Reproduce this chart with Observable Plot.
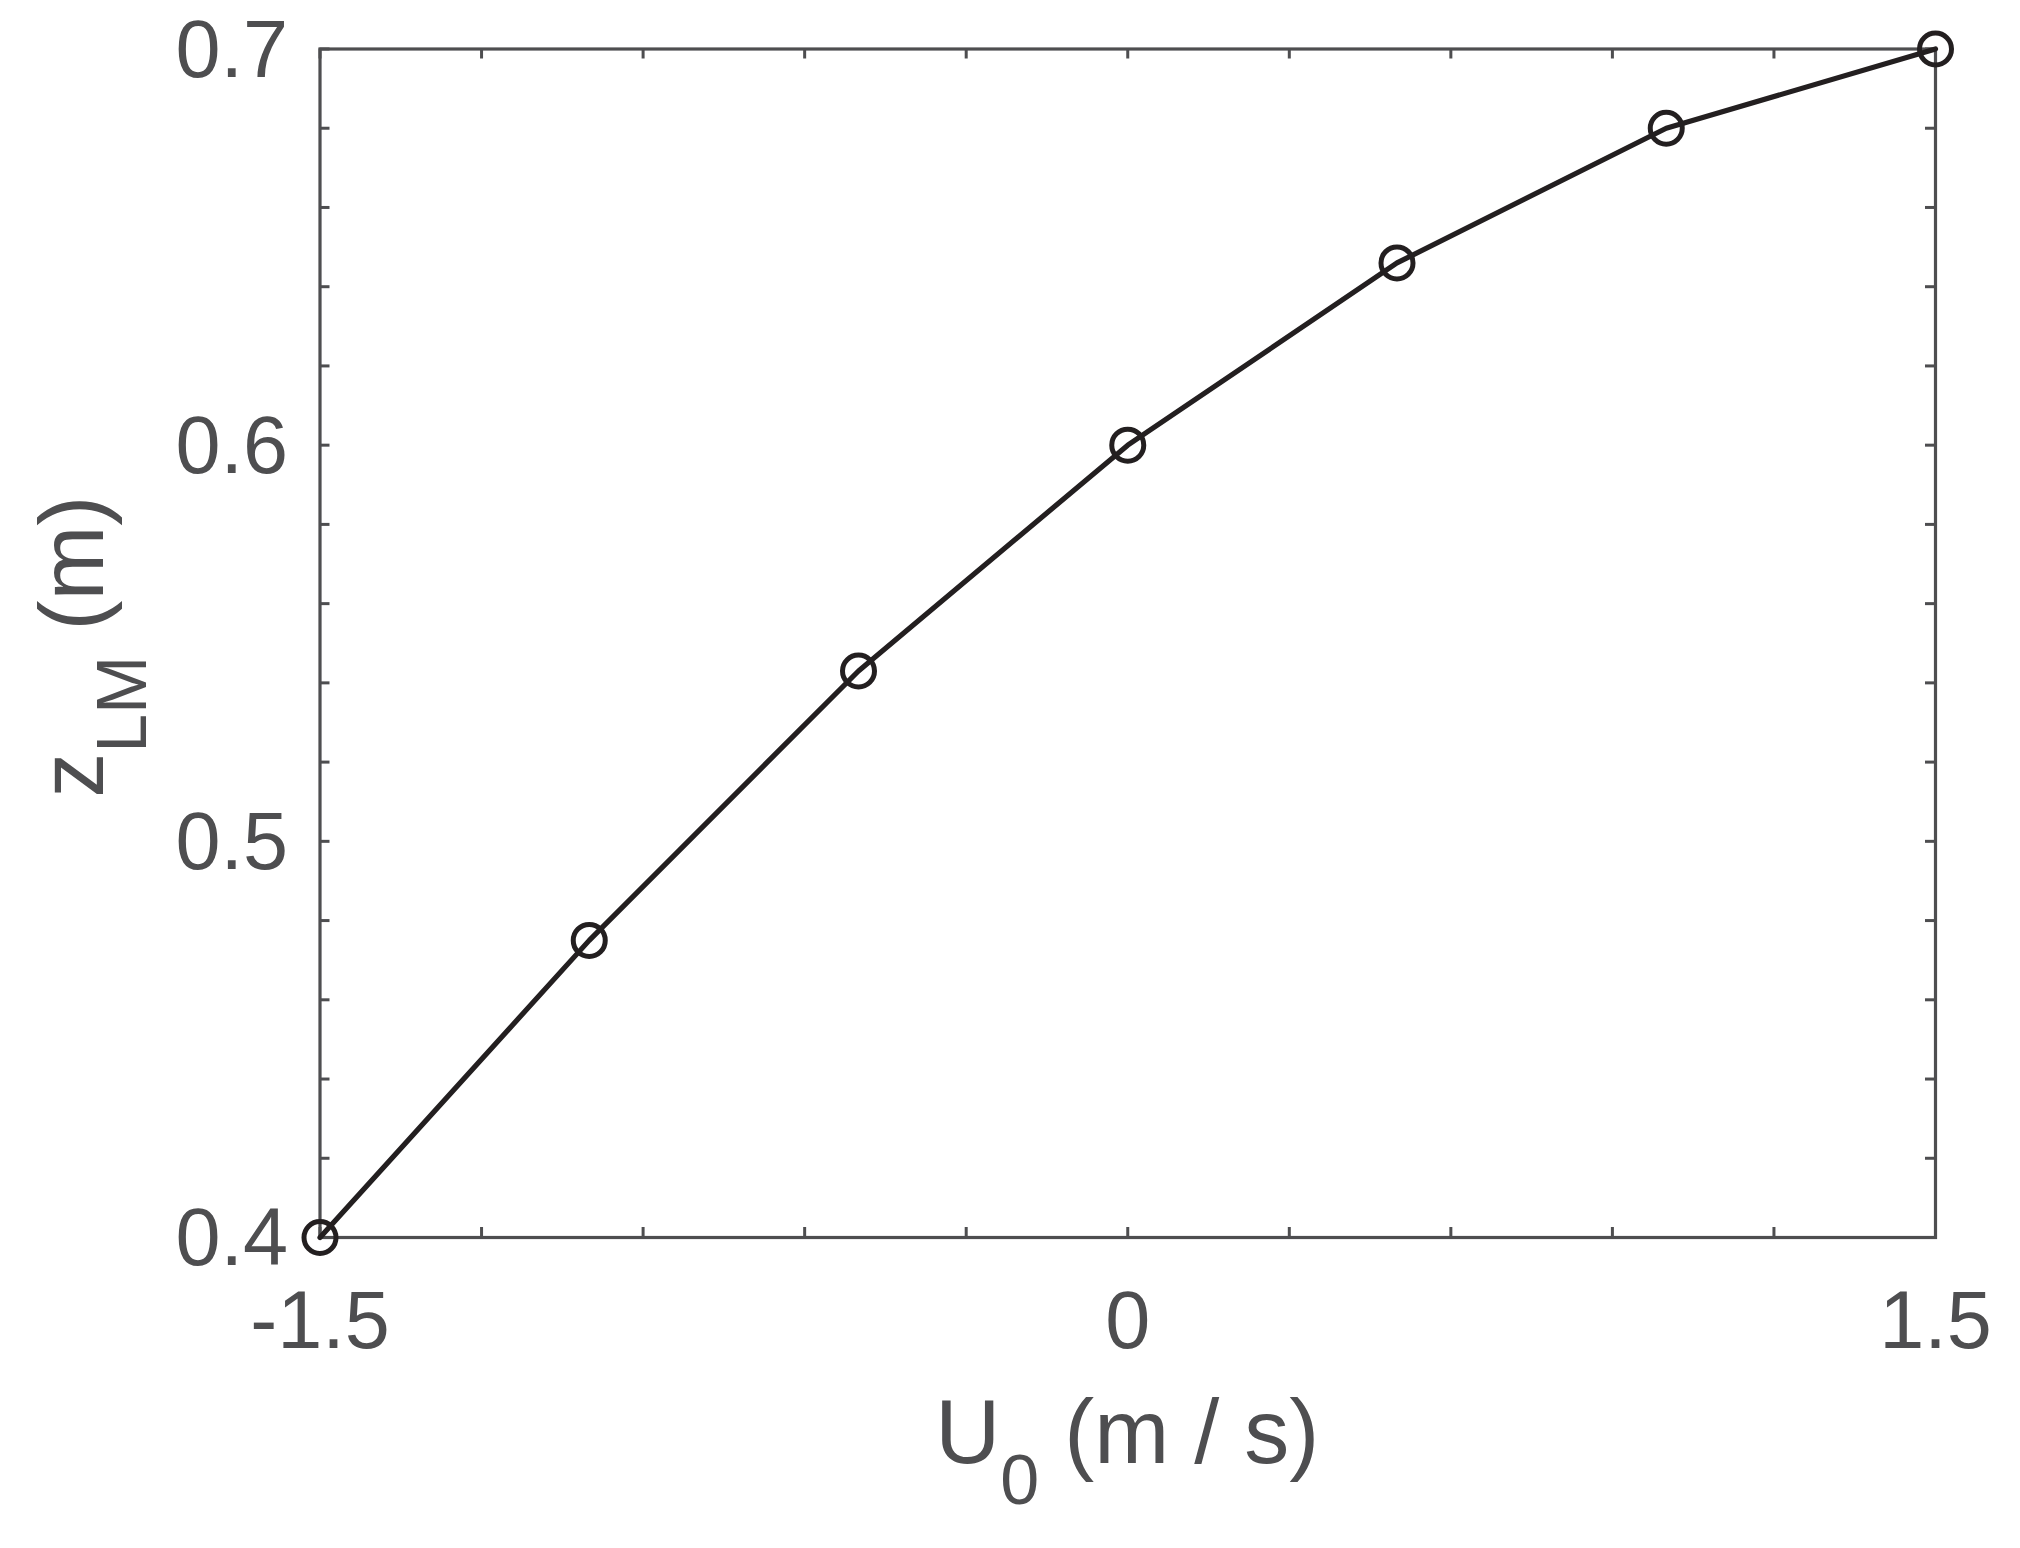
<!DOCTYPE html>
<html>
<head>
<meta charset="utf-8">
<script src="https://cdn.jsdelivr.net/npm/d3@7"></script>
<script src="https://cdn.jsdelivr.net/npm/@observablehq/plot@0.6"></script>
<style>
  html, body { margin: 0; padding: 0; background: #ffffff; }
  #chart { width: 2020px; height: 1548px; }
</style>
</head>
<body>
<div id="chart"></div>
<script>
// ---- data ----
const u0 = [-1.5, -1.0, -0.5, 0, 0.5, 1.0, 1.5];
const zLM = [0.4, 0.475, 0.543, 0.6, 0.646, 0.68, 0.7];
const xTicks = [-1.5, -1.2, -0.9, -0.6, -0.3, 0, 0.3, 0.6, 0.9, 1.2, 1.5];
const xTickLabels = [-1.5, 0, 1.5];
const yTicks = [0.4, 0.42, 0.44, 0.46, 0.48, 0.5, 0.52, 0.54, 0.56, 0.58, 0.6, 0.62, 0.64, 0.66, 0.68, 0.7];
const yTickLabels = [0.4, 0.5, 0.6, 0.7];

const rows = u0.map((u, i) => ({u, z: zLM[i]}));

// ---- layout ----
const W = 2020, H = 1548;
const mL = 319.5, mR = 85, mT = 48.5, mB = 311;
const innerW = W - mL - mR, innerH = H - mT - mB;
const tickLen = 10;
const axisColor = "#4e4e50";
const lineColor = "#231f20";
const font = "'Liberation Sans', Arial, Helvetica, sans-serif";

const chart = Plot.plot({
  width: W, height: H,
  marginLeft: mL, marginRight: mR, marginTop: mT, marginBottom: mB,
  style: {fontFamily: font, background: "#ffffff", overflow: "visible"},
  x: {domain: [-1.5, 1.5]},
  y: {domain: [0.4, 0.7]},
  marks: [
    // inward tick marks on all four sides
    Plot.tickX(xTicks, {x: d => d, stroke: axisColor, strokeWidth: 3, insetTop: innerH - tickLen}),
    Plot.tickX(xTicks, {x: d => d, stroke: axisColor, strokeWidth: 3, insetBottom: innerH - tickLen}),
    Plot.tickY(yTicks, {y: d => d, stroke: axisColor, strokeWidth: 3, insetRight: innerW - tickLen}),
    Plot.tickY(yTicks, {y: d => d, stroke: axisColor, strokeWidth: 3, insetLeft: innerW - tickLen}),
    Plot.frame({stroke: axisColor, strokeWidth: 3.2}),
    // tick labels
    Plot.axisX(xTickLabels, {anchor: "bottom", tickSize: 0, tickPadding: 53, fontSize: 81,
      fill: axisColor, tickFormat: d => String(d), label: null}),
    Plot.axisY(yTickLabels, {anchor: "left", tickSize: 0, tickPadding: 32, fontSize: 81,
      fill: axisColor, tickFormat: d => String(d), label: null, dy: 2}),
    // data
    Plot.line(rows, {x: "u", y: "z", stroke: lineColor, strokeWidth: 5.2}),
    Plot.dot(rows, {x: "u", y: "z", r: 16, stroke: lineColor, strokeWidth: 5, fill: "none"})
  ]
});

document.getElementById("chart").appendChild(chart);

// axis titles with subscripts
const svg = d3.select(chart);
const cx = mL + innerW / 2;
const cy = mT + innerH / 2;

const xt = svg.append("text")
  .attr("x", cx).attr("y", mT + innerH + 226)
  .attr("text-anchor", "middle")
  .attr("fill", axisColor)
  .attr("font-family", font)
  .attr("font-size", 90);
xt.append("tspan").text("U");
xt.append("tspan").attr("dy", 41).attr("font-size", 70).text("0");
xt.append("tspan").attr("dy", -41).text(" (m / s)");

const yt = svg.append("text")
  .attr("transform", `translate(${103},${cy + 4}) rotate(-90)`)
  .attr("text-anchor", "middle")
  .attr("fill", axisColor)
  .attr("font-family", font)
  .attr("font-size", 90);
yt.append("tspan").text("z");
yt.append("tspan").attr("dy", 43).attr("font-size", 70).text("LM");
yt.append("tspan").attr("dy", -43).text(" (m)");
</script>
</body>
</html>
